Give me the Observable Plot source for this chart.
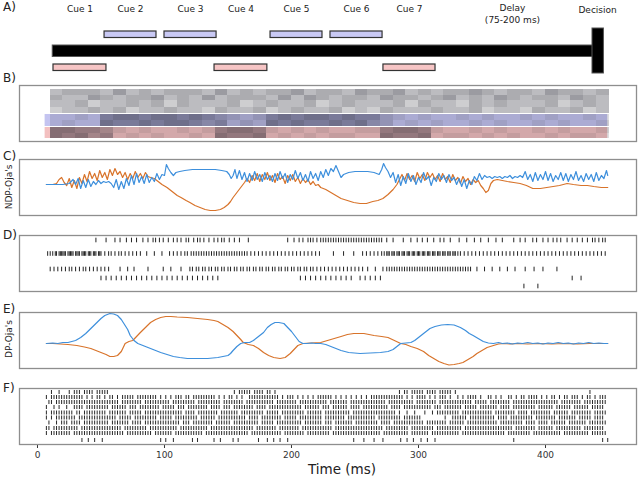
<!DOCTYPE html>
<html><head><meta charset="utf-8">
<script src="https://cdn.jsdelivr.net/npm/d3@7"></script>
<script src="https://cdn.jsdelivr.net/npm/@observablehq/plot@0.6"></script>
<style>
body{margin:0;background:#fff;font-family:"DejaVu Sans",sans-serif;}
#root{position:relative;width:640px;height:481px;overflow:hidden;background:#fff;}
.lbl{position:absolute;font-size:12px;line-height:1;color:#222;white-space:nowrap;}
.ylab{position:absolute;font-size:9px;line-height:1;color:#222;white-space:nowrap;transform:translate(-50%,-50%) rotate(-90deg);}
</style></head><body><div id="root"></div>
<script>
// ---------- Panel A: trial schematic ----------
const cueNames = ["Cue 1","Cue 2","Cue 3","Cue 4","Cue 5","Cue 6","Cue 7"];
const cueStart = [12.6, 52.8, 100.0, 139.4, 183.5, 230.7, 272.4];
const cueEnd   = [54.3, 93.7, 141.0, 181.0, 224.4, 271.7, 313.4];
const cueSide  = ["red","blue","blue","red","blue","blue","red"];
const trialSpan = [12, 441];
const decisionSpan = [437, 446];
const phaseNames = ["Delay\n(75-200 ms)", "Decision"];
const phaseT = [374, 441];

// ---------- Panel B: input raster density (10 ms bins from 10 ms) ----------
const bGray1a = "45554 64545 55464 54556 45546 55645 45565 45546 5545";
const bGray1b = "54465 45564 54645 55464 65455 46554 56454 65455 4654";
const bGray2a = "44534 45453 54445 34544 53454 44535 44354 54445 3454";
const bGray2b = "34454 53445 44354 45345 44534 35444 54453 44354 4534";
const bBlueA  = "2232 6776776765 434 6767767664 32322323223232232";
const bBlueB  = "2322 7667677656 343 7676676754 23232232322323223";
const bRedA   = "77665 32322323 6776 323232233 6776 32232322323223";
const bRedB   = "76756 23232232 7667 232323322 7667 23323232232332";
const bandSpan = [6, 449];

// ---------- Panel C: NDP-Oja's ----------
const cBlue = [[7,31],[14,31],[20,31],[25,32],[28,36],[30,31],[32,37],[34,27],[36,35],[38,28],[40,36],[42,29],[44,34],[46,31],[48,35],[50,32],[52,34],[54,33],[56,34],[58,32],[60,28],[62,36],[64,26],[66,34],[68,27],[70,37],[72,30],[74,40],[76,31],[78,42],[80,33],[82,39],[84,32],[86,41],[88,33],[90,38],[92,34],[94,42],[96,36],[98,41],[100,40],[101.5,51],[103,47],[105,43],[107,40],[109,43],[112,44],[116,45],[122,46],[128,46],[134,46],[140,46],[145,45],[149,44],[151,41],[152.5,37],[154,40],[155.5,46],[157,37],[159,45],[161,36],[163,43],[165,34],[167,42],[169,35],[171,44],[173,36],[175,41],[177,34],[179,43],[181,36],[183,40],[185,34],[187,42],[189,35],[191,44],[193,37],[195,42],[197,33],[199,41],[201,36],[203,45],[205,37],[207,43],[209,35],[211,41],[213,34],[215,44],[217,37],[219,42],[221,35],[223,44],[225,38],[227,46],[229,40],[231,47],[233,44],[235,50],[237,44],[239,38],[241,41],[245,43],[250,44],[255,44],[260,44],[265,43],[269,41],[271,46],[272.5,52],[274,48],[276,44],[278,38],[280,43],[282,33],[284,41],[286,30],[288,39],[290,32],[292,42],[294,34],[296,40],[298,31],[300,38],[302,33],[304,43],[306,36],[308,39],[310,30],[312,38],[314,34],[316,42],[318,36],[320,40],[322,33],[324,41],[326,35],[328,38],[330,31],[332,37],[334,29],[336,36],[338,27],[340,35],[342,31],[344,39],[346,35],[348,42],[350,36],[352,40],[354,38],[356,39],[358,37],[360,39],[362,38],[364,39],[366,37],[368,39],[370,38],[372,40],[374,37],[376,39],[378,38],[380,40],[382,38],[384,44],[386,36],[388,41],[390,34],[392,43],[394,35],[396,41],[398,36],[400,44],[402,35],[404,42],[406,34],[408,40],[410,36],[412,43],[414,35],[416,42],[418,34],[420,41],[422,36],[424,44],[426,35],[428,40],[430,34],[432,42],[434,36],[436,41],[438,34],[440,43],[442,35],[444,40],[446,37],[448,45],[449,40]];
const cOrange = [[7,31],[12,31],[15,32],[17,36],[19,38],[21,33],[23,30],[25,37],[27,28],[29,35],[31,27],[33,38],[35,32],[37,41],[39,34],[41,44],[43,37],[45,42],[47,35],[49,45],[51,38],[53,43],[55,36],[57,46],[59,40],[61,47],[63,41],[65,44],[67,38],[69,43],[71,36],[73,42],[75,37],[77,44],[79,38],[81,42],[83,37],[85,43],[87,39],[89,38],[92,37],[95,34],[98,31],[102,28],[106,24],[110,20],[113,18],[117,15],[120,13],[124,10],[128,8],[132,6],[136,5],[140,5],[144,6],[147,8],[150,11],[152,14],[154,18],[157,23],[160,28],[163,33],[165,37],[167,33],[169,40],[171,35],[173,42],[175,34],[177,41],[179,36],[181,43],[183,35],[185,40],[187,33],[189,42],[191,36],[193,39],[195,32],[197,40],[199,35],[201,41],[203,34],[205,38],[207,32],[209,37],[211,33],[213,36],[215,31],[217,34],[219,30],[221,31],[223,28],[227,26],[231,23],[235,20],[239,17],[244,15],[249,13],[254,12],[259,12],[264,14],[268,15],[272,17],[276,21],[280,26],[283,31],[285,36],[287,41],[289,35],[291,42],[293,36],[295,40],[297,34],[299,43],[301,37],[303,41],[305,35],[307,43],[309,38],[311,42],[313,36],[315,40],[317,34],[319,42],[321,36],[323,39],[325,33],[327,41],[329,35],[331,38],[333,32],[335,39],[337,34],[339,37],[341,31],[343,36],[345,33],[347,35],[349,30],[351,27],[353,23],[355,25],[357,32],[359,35],[362,36],[366,35],[370,34],[375,33],[380,32],[385,30],[390,27],[396,27],[401,28],[406,29],[411,30],[417,32],[422,31],[428,30],[433,30],[438,29],[444,28],[449,28]];

// ---------- Panel D: spike times (ms) ----------
const d1 = [46,54,61,65,70,74,78,83,87,91,93,96,99,103,107,110,113,117,119,123,126,128,131,135,139,142,145,147,151,155,159,166,197,202,206,209,213,215,217,220,223,225,227,229,231,233,235,237,239,241,243,245,247,249,251,253,255,257,259,261,263,265,267,269,271,275,280,288,294,299,303,307,312,317,320,325,332,338,344,349,355,361,366,375,380,384,390,393,398,402,406,409,412,417,421,425,429,433,437,439,442,445,447];
const d2 = [8,10,12,14,15,17,18,19,20,21,22,24,25,26,27,28,30,31,32,33,35,36,37,38,40,41,42,44,45,46,48,49,50,53,56,58,61,64,66,69,72,75,78,81,86,92,98,104,107,110,113,116,118,121,123,125,127,129,131,133,135,137,139,141,143,145,147,149,151,153,155,157,159,161,163,165,168,171,174,177,180,183,186,189,192,195,198,201,204,207,210,213,216,219,222,233,241,249,256,259,262,265,268,271,273,275,276,277,279,280,281,283,284,285,287,288,289,291,292,293,295,296,297,299,300,301,303,304,305,307,308,309,311,312,313,315,316,317,319,320,321,323,324,325,327,328,329,331,333,336,339,342,345,348,351,354,357,360,363,366,369,372,375,378,381,384,387,390,393,396,399,402,405,408,411,414,417,420,423,426,429,432,435,438,441,444,447];
const d3 = [10,13,16,19,22,25,27,30,33,36,38,41,44,47,50,53,56,65,71,76,87,99,105,113,120,122,125,127,130,132,135,137,140,142,145,147,150,152,155,157,160,162,165,167,170,172,175,177,180,182,185,187,190,192,195,197,200,202,205,207,210,212,215,217,220,223,226,229,232,235,238,241,244,247,250,253,256,260,266,272,275,277,279,281,283,285,287,289,291,293,295,297,299,301,303,305,307,309,311,313,315,317,319,321,323,325,327,329,331,333,335,337,339,341,346,352,358,364,370,376,384,391,398,409];
const d4 = [50,54,58,62,66,70,74,78,82,86,90,94,98,102,106,110,114,118,122,126,130,134,138,142,207,211,215,219,223,227,231,235,239,243,247,254,258,262,266,270,421,428];
const d5 = [383,394];

// ---------- Panel E: DP-Oja's ----------
const eBlue = [[7,25],[12,25.5],[16,25],[20,26],[24,26],[27,27],[30,28],[34,31],[38,35],[42,40],[46,45],[50,50],[53,53],[57,55],[60,54.5],[63,53],[66,49],[68,45],[71,39],[73,33],[76,28],[79,25],[83,23],[87,21],[92,18.5],[97,16],[102,14],[107,12],[112,11],[118,10],[126,10],[134,10],[142,11],[150,13],[152,15],[154,18],[157,22],[160,25],[163,26],[167,26],[170,28],[174,32],[178,36],[181,41],[184,44],[187,46],[190,46],[194,45],[197,41],[200,37],[203,32],[206,27],[209,25],[212,25],[216,25.5],[219,25],[223,25],[227,24],[231,22],[235,20],[239,18],[245,16],[254,15],[262,15.5],[270,16],[276,17],[280,19],[283,22],[286,25],[290,25.5],[294,26],[297,28],[300,31],[303,34],[306,37],[309,40],[313,42],[318,43.5],[323,44],[328,43.5],[333,41],[337,38],[340,35],[343,33],[347,30],[351,27],[355,25.5],[359,25],[363,26],[366,25],[370,25.5],[374,24.5],[378,25.5],[382,25],[386,26],[390,25],[394,25.5],[398,24.5],[402,25.5],[406,25],[410,26],[414,25],[418,25.5],[422,24.5],[426,25.5],[430,25],[434,26],[438,25],[442,25.5],[446,25],[449,25]];
const eOrange = [[7,25],[12,25],[18,24.5],[24,24],[31,23],[37,21.5],[42,20],[46,18],[50,16],[54,14],[57,12],[60,12],[63,13],[66,17],[69,25],[72,27],[75,28],[78,32],[81,36],[85,41],[89,46],[93,49],[97,51],[101,52],[105,52],[110,51.5],[118,51],[126,50],[134,49],[139,48],[142,47],[146,44],[150,41],[154,37],[157,33],[160,29],[162,26],[166,24],[170,23],[174,20],[178,16],[182,13],[186,11],[191,10],[195,11],[199,15],[202,19],[205,23],[209,25],[215,25.5],[223,26],[231,29],[239,32],[244,34],[249,35],[257,35],[265,33],[271,32],[276,31],[281,28],[286,25],[290,24],[294,22],[299,20],[304,17],[308,13],[312,10],[316,7],[320,5],[324,3.5],[328,4],[332,5],[335,6],[339,9],[343,12],[346,15],[350,18],[354,21],[359,23],[363,24.5],[367,25],[372,24.5],[378,25],[386,24.5],[395,25],[405,24.5],[415,25],[425,24.5],[435,25],[449,25]];

// ---------- Panel F: output raster, 2 ms bins, 50 ms per chunk ----------
const fRaster = [
".....|..|...|.|||.||||.|| |||...................... ......................... ..|.|||||.||||.||.|...... ......................... .................|.||.||| ||.||||.|||||.|.......... ......................... .................|.......",
"...|.|||||||||||||.|.|.|| .|.||.|.|||||.||||||||.|. |.|.|||.||.|||||||||.|.|. ||.|.|..||||||||||||.|.|| |.|.|.|.|.||||||.|.|.|.|. |.|.|.|||||||||||||.|.|.| |||.|.|.|||.|..|.|.||||.| ..||.|.|..||.|.||.||||.|. |.||.|.||.|||.|.||.|.|||.",
"....||.|||||||||||||||||| |||||||.||||||||.|||||||| ||.|||||||||.|||||||||.|| ||||||.|||||||||||.|||||| ||.|||||||||||.|||||||.|| ||||||||||||.||||||||||.| |||||||.|||||||||||||.||| ||.||||||||.||||||||||||| |||||.||||||||.|||||||||.",
"...|..|.|..|..||||.|||||| |||.||||||.|||.||||||||.| ||||.|||.||||||||.||||.|| |.||||||||.||||.||||||||| ||||.||||||.|||.||||||.|| ||.||||||||||.||||.|||||| |||||.|||.|||||||.|||||.| ||||||.||||.|||||||||.||| |||.||||||.||||||.|||||..",
"...|.|||||||||.||.||||||| ||.|||||||.|||||.|||||||| |||||||.||||.||||||||.||| ||||.|||||||||.|||||.|||| |||||.||||||.||||||||||.| ||||||||||||||||.|..|..|. ..|..|.|||||||||.|||||||| ||||.||||||||.||||.|||||| ||.||||||.||||||||.|||||.",
"...|.|.||||||||.||||||||| ||||||.|||||.|||||||||.|| |||.|||||||||.||||||.|||| |||||||.||||.||||||||.||| ||.|||||||||.||||||||.||| ||||||||.|||||||||.|||||| |.........|..||||||.||||| |||||.||||.|||||||||.|||| ||||.|||||||.|||||.||||..",
"....|..|.|||.||||.||||||| |||.|||||||.||||.|||||||| ||||||.|||.||||||||.||||| |.||||||||||.|||||.|||||| ||||.|||||||.|||.|||||||. |||||||||.||||.|||||||||| ||.||||||||.||||||.|||||| ||||||.|||||||||.||||.||| |.||||||.|||||||.|||||||.",
"...||.||||||||||.|||||||| ||||||||.|||||||||.|||||| |||||.|||||||||||.||||||| ||||||||||.||||||||.||||| |||.||||||||||||.|||||||| |||||||||||.|||||||||.||| ||||||.||||||||||.||||||| ||||||||||||.||||||||.||| |||.||||||||||.||||||||..",
"...|.||||||||.||||||||||| |||||||||.||||||||||.|||| |||.|||||||||||.||||||||| ||||||||.||||||||||||.||| |||||.|||||||||.||||||||| ||||||||||.||||||||||.||| ||||.|||||||||||.|||||||| |||||||||.|||||||||.||||| ||||||.||||||||||.||||||."
];
const fBottom = [35,40,45,51,97,101,107,122,126,139,144,154,158,174,181,186,191,197,249,257,265,272,286,291,296,302,307,313,375,445,449];
const timeTicks = [0,100,200,300,400];

// ---------- build ----------
const root = document.getElementById("root");
const T_DOMAIN = [-14.17, 471.65];
const BLUE = "#3d8fdc", ORANGE = "#d8732a", FRAME = "#8e8e8e";
const base = {width:640, marginLeft:19, marginRight:4,
  style:{fontFamily:"DejaVu Sans", background:"transparent", overflow:"visible", color:"#333"}};
function place(svg, top){ svg.style.position="absolute"; svg.style.left="0px"; svg.style.top=top+"px"; root.appendChild(svg); }
function panel(top, marks, extra={}){
  const mb = extra.marginBottom ?? 2;
  place(Plot.plot({...base, height:56+2+mb, marginTop:2, marginBottom:mb,
    x: extra.x ?? {domain:T_DOMAIN, axis:null},
    y:{domain:[0,56], axis:null}, marks}), top-2);
}
const frame = Plot.frame({stroke:FRAME, strokeWidth:1.3});

// A
const cues = cueNames.map((name,i)=>({name, s:cueStart[i], e:cueEnd[i], side:cueSide[i]}));
const LANE = {blue:[31,37.5], red:[64,70.5]};
place(Plot.plot({...base, height:80, marginTop:0, marginBottom:0,
  x:{domain:T_DOMAIN, axis:null}, y:{domain:[80,0], axis:null},
  marks:[
    Plot.rect([trialSpan], {x1:d=>d[0], x2:d=>d[1], y1:45, y2:56.5, fill:"#000", stroke:"#555", strokeWidth:1}),
    Plot.rect([decisionSpan], {x1:d=>d[0], x2:d=>d[1], y1:28, y2:73, fill:"#000", stroke:"#555", strokeWidth:1}),
    Plot.rect(cues.filter(d=>d.side==="blue"), {x1:"s", x2:"e", y1:LANE.blue[0], y2:LANE.blue[1], fill:"#c9c9f4", stroke:"#333", strokeWidth:1.2}),
    Plot.rect(cues.filter(d=>d.side==="red"), {x1:"s", x2:"e", y1:LANE.red[0], y2:LANE.red[1], fill:"#f6c5c5", stroke:"#333", strokeWidth:1.2}),
    Plot.text(cues, {x:d=>(d.s+d.e)/2, y:9, text:"name", fontSize:9, fill:"#222"}),
    Plot.text([0], {x:phaseT[0], y:13, text:[phaseNames[0]], fontSize:9, fill:"#222", lineHeight:1.3}),
    Plot.text([1], {x:phaseT[1], y:10, text:[phaseNames[1]], fontSize:9, fill:"#222"})
  ]}), 0);

// B
const bRows = [bGray1a,bGray1b,bGray2a,bGray2b,bBlueA,bBlueB,bRedA,bRedB];
const bRowY = [[46.5,52],[41,46.5],[34.5,41],[28,34.5],[21,27],[15,21],[8.5,14],[3,8.5]];
const cells = bRows.flatMap((s,r)=>s.replace(/ /g,"").split("").map((c,i)=>({x1:10+10*i, x2:20+10*i, y1:bRowY[r][0], y2:bRowY[r][1], o:+c*0.075})));
panel(85, [
  Plot.rect([bandSpan], {x1:d=>d[0], x2:d=>d[1], y1:15, y2:27, fill:"#c4c4f0"}),
  Plot.rect([bandSpan], {x1:d=>d[0], x2:d=>d[1], y1:3, y2:14, fill:"#f3c0c0"}),
  Plot.rect(cells, {x1:"x1", x2:"x2", y1:"y1", y2:"y2", fill:"#22222e", fillOpacity:"o", shapeRendering:"crispEdges"}),
  frame
]);

// C
const line = (data, color)=>Plot.line(data, {x:d=>d[0], y:d=>d[1], stroke:color, strokeWidth:1.2});
panel(159, [line(cOrange, ORANGE), line(cBlue, BLUE), frame]);

// D
const dRowV = [51, 37.5, 22, 13, 5];
const dTicks = [d1,d2,d3,d4,d5].flatMap((row,i)=>row.map(t=>({t, v:dRowV[i]})));
panel(235, [Plot.ruleX(dTicks, {x:"t", y1:d=>d.v-2.3, y2:d=>d.v+2.3, stroke:"#222", strokeWidth:1}), frame]);

// E
panel(312, [line(eOrange, ORANGE), line(eBlue, BLUE), frame]);

// F
function parseRaster(s){ const out=[]; s.split(" ").forEach((chunk,k)=>{ for(let j=0;j<chunk.length;j++) if(chunk[j]==="|") out.push(50*k+2*j+1); }); return out; }
const fRows = [...fRaster.map(parseRaster), fBottom];
const fRowV = [52, 47, 42, 37, 31.5, 26.5, 21.5, 16, 11, 4];
const fTicks = fRows.flatMap((row,i)=>row.map(t=>({t, v:fRowV[i]})));
panel(388, [Plot.ruleX(fTicks, {x:"t", y1:d=>d.v-2, y2:d=>d.v+2, stroke:"#2a2a2a", strokeWidth:1}), frame],
  {marginBottom:22, x:{domain:T_DOMAIN, ticks:timeTicks, tickSize:4, tickPadding:3, label:null}});
root.lastChild.style.fontSize = "9px";

// overlay labels
function lbl(text, x, y, cls="lbl"){ const d=document.createElement("div"); d.className=cls; d.textContent=text; d.style.left=x+"px"; d.style.top=y+"px"; root.appendChild(d); return d; }
[["A)",1],["B)",72],["C)",150],["D)",229],["E)",303],["F)",382]].forEach(([t,y])=>lbl(t,3,y));
lbl("NDP-Oja's", 9, 187, "ylab");
lbl("DP-Oja's", 9, 339, "ylab");
const tl = lbl("Time (ms)", 0, 463); tl.style.fontSize="13.5px"; tl.style.left="342px"; tl.style.transform="translateX(-50%)";
</script></body></html>
